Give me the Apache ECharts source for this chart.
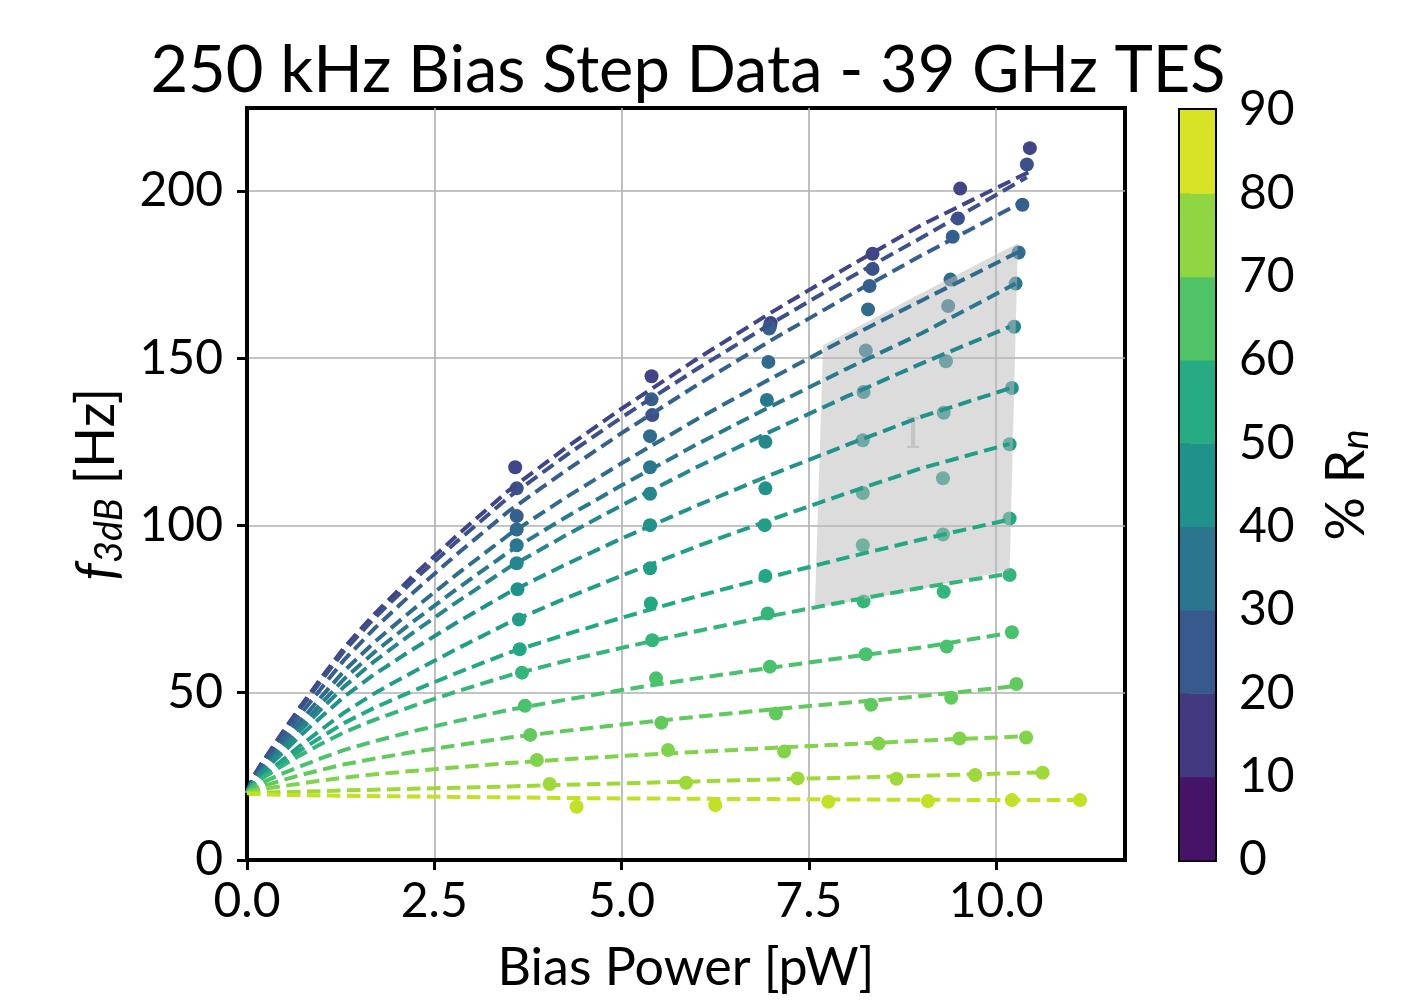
<!DOCTYPE html>
<html>
<head>
<meta charset="utf-8">
<script src="https://cdn.jsdelivr.net/npm/echarts@6/dist/echarts.min.js"></script>
<style>
  html, body { margin: 0; padding: 0; background: #fff; }
  #chart { width: 1419px; height: 1001px; }
</style>
</head>
<body>
<div id="chart"></div>
<script>
// ---------------- data ----------------
const TITLE = '250 kHz Bias Step Data - 39 GHz TES';
const X_TICKS = [0, 2.5, 5, 7.5, 10];
const Y_TICKS = [0, 50, 100, 150, 200];
const CB_TICKS = [0, 10, 20, 30, 40, 50, 60, 70, 80, 90];
const CB_BINS = [[0, 10], [10, 20], [20, 30], [30, 40], [40, 50], [50, 60], [60, 70], [70, 80], [80, 90]];

// %Rn of each curve (colour)
const RN = [18, 22, 27, 31, 36, 41, 45, 50, 54, 59, 64, 68, 73, 77, 82];

// measured points: bias power [pW]
const POINT_P = [
  [3.58, 5.40, 6.99, 8.35, 9.52, 10.45],
  [3.60, 5.41, 6.98, 8.35, 9.49, 10.41],
  [3.60, 5.40, 6.97, 8.31, 9.42, 10.35],
  [3.60, 5.38, 6.96, 8.29, 9.39, 10.30],
  [3.60, 5.38, 6.94, 8.26, 9.36, 10.26],
  [3.60, 5.38, 6.92, 8.23, 9.33, 10.24],
  [3.61, 5.38, 6.92, 8.22, 9.30, 10.21],
  [3.63, 5.38, 6.91, 8.22, 9.29, 10.18],
  [3.64, 5.39, 6.92, 8.22, 9.29, 10.18],
  [3.67, 5.41, 6.95, 8.23, 9.30, 10.18],
  [3.71, 5.46, 6.98, 8.26, 9.34, 10.21],
  [3.78, 5.53, 7.06, 8.33, 9.40, 10.27],
  [3.87, 5.62, 7.17, 8.43, 9.51, 10.40],
  [4.04, 5.86, 7.35, 8.67, 9.72, 10.62],
  [4.40, 6.25, 7.76, 9.09, 10.21, 11.12]
];
// measured points: f3dB [Hz]
const POINT_F = [
  [117.4, 144.6, 160.5, 181.2, 200.7, 212.8],
  [111.1, 133.0, 159.5, 176.7, 191.8, 207.9],
  [102.8, 137.7, 158.9, 171.6, 186.3, 195.9],
  [98.8, 126.7, 148.9, 164.6, 173.5, 181.6],
  [94.1, 117.4, 137.5, 152.3, 165.6, 172.3],
  [88.7, 109.5, 125.0, 139.9, 149.1, 159.4],
  [80.9, 100.1, 111.1, 125.5, 133.7, 141.1],
  [71.9, 87.2, 100.1, 109.7, 114.1, 124.3],
  [63.0, 76.7, 84.9, 94.1, 97.3, 102.1],
  [56.0, 65.7, 73.7, 77.3, 80.2, 85.2],
  [46.1, 54.3, 57.8, 61.5, 63.8, 68.1],
  [37.4, 41.0, 43.8, 46.4, 48.5, 52.6],
  [29.9, 32.9, 32.4, 34.8, 36.3, 36.6],
  [22.7, 23.1, 24.4, 24.3, 25.4, 26.1],
  [15.9, 16.4, 17.4, 17.6, 17.9, 17.9]
];

// fit curves, read at these powers plus each curve's own end power
const FIT_P = [0, 0.02, 0.05, 0.1, 0.2, 0.3, 0.45, 0.7, 1.0, 1.3, 1.7, 2.2, 2.8, 3.5, 4.25, 5, 6, 7, 8, 9];
const FIT_END = [10.45, 10.41, 10.35, 10.30, 10.26, 10.18, 10.21, 10.18, 10.18, 10.18, 10.21, 10.27, 10.40, 10.62, 11.12];
const FIT_F = [
  [20, 21.5, 23.1, 25.5, 29.1, 32.4, 37.4, 45.5, 54.7, 63.6, 73.5, 84.6, 97.0, 110.6, 123.1, 134.9, 149.7, 163.7, 177.0, 189.8, 205.8],
  [20, 21.4, 23.0, 25.3, 28.8, 32.1, 37.0, 44.9, 53.9, 62.6, 72.3, 83.1, 95.2, 108.6, 120.8, 132.3, 146.7, 160.4, 173.5, 186.0, 204.1],
  [20, 21.2, 22.7, 24.8, 28.0, 31.1, 35.6, 43.1, 51.6, 59.9, 69.2, 79.6, 91.4, 104.4, 116.3, 127.6, 141.9, 155.4, 168.3, 180.7, 196.7],
  [20, 21.1, 22.4, 24.4, 27.4, 30.1, 34.3, 41.2, 49.0, 56.6, 65.1, 74.6, 85.4, 97.3, 108.3, 118.6, 131.7, 144.0, 155.9, 167.2, 181.8],
  [20, 21.1, 22.3, 24.1, 26.9, 29.5, 33.4, 39.7, 47.0, 54.2, 62.1, 71.0, 81.0, 92.2, 102.4, 112.0, 124.2, 135.7, 146.8, 157.4, 172.3],
  [20, 21.0, 22.1, 23.8, 26.4, 28.8, 32.5, 38.5, 45.3, 51.9, 59.4, 67.7, 77.1, 87.5, 97.0, 106.0, 117.4, 128.2, 138.5, 148.4, 159.4],
  [20, 21.0, 22.0, 23.6, 26.0, 28.2, 31.5, 36.9, 43.0, 48.9, 55.5, 62.8, 71.0, 80.0, 88.3, 96.1, 105.9, 115.2, 124.0, 132.5, 141.2],
  [20, 20.8, 21.6, 22.9, 24.9, 26.7, 29.4, 34.0, 39.1, 44.1, 49.8, 56.0, 63.1, 71.0, 78.2, 85.0, 93.7, 101.8, 109.6, 117.1, 124.4],
  [20, 20.8, 21.7, 22.9, 24.7, 26.3, 28.7, 32.6, 36.9, 41.0, 45.5, 50.4, 55.9, 62.0, 67.4, 72.4, 78.8, 84.7, 90.4, 95.8, 101.8],
  [20, 20.8, 21.6, 22.8, 24.4, 25.8, 27.9, 31.2, 34.8, 38.2, 41.9, 45.9, 50.4, 55.2, 59.5, 63.4, 68.4, 73.0, 77.3, 81.4, 85.6],
  [20, 20.6, 21.2, 22.0, 23.1, 24.1, 25.6, 27.9, 30.5, 32.9, 35.5, 38.4, 41.5, 44.9, 47.9, 50.8, 54.3, 57.5, 60.6, 63.5, 68.0],
  [20, 20.4, 20.8, 21.3, 22.1, 22.7, 23.7, 25.3, 27.0, 28.6, 30.3, 32.2, 34.3, 36.6, 38.6, 40.5, 42.8, 45.0, 47.0, 49.0, 52.0],
  [20, 20.2, 20.4, 20.7, 21.1, 21.5, 22.0, 22.8, 23.8, 24.6, 25.6, 26.6, 27.7, 29.0, 30.1, 31.1, 32.3, 33.5, 34.6, 35.7, 37.0],
  [20, 20.0, 20.0, 20.1, 20.1, 20.2, 20.3, 20.4, 20.6, 20.8, 21.0, 21.3, 21.6, 22.0, 22.5, 22.9, 23.5, 24.1, 24.6, 25.2, 26.2],
  [20, 19.8, 19.75, 19.7, 19.6, 19.55, 19.5, 19.4, 19.3, 19.2, 19.1, 19.0, 18.85, 18.7, 18.55, 18.4, 18.3, 18.2, 18.1, 18.0, 17.9]
];

// shaded region (bias power, f3dB) and its marker
const REGION_P = [7.69, 8.98, 10.29, 10.18, 8.90, 7.58];
const REGION_F = [153.9, 169.2, 184.4, 86.7, 80.6, 75.3];
const REGION_MARK = [8.89, 126.4];

// ---------------- styling helpers ----------------
const VIRIDIS = ['#440154', '#482475', '#414487', '#355f8d', '#2a788e', '#21918c',
                 '#22a884', '#44bf70', '#7ad151', '#bddf26', '#fde725'];
function hexToRgb(h) { return [1, 3, 5].map(i => parseInt(h.slice(i, i + 2), 16)); }
function viridis(t) {
  t = Math.max(0, Math.min(1, t));
  const s = t * 10, i = Math.min(9, Math.floor(s)), f = s - i;
  const a = hexToRgb(VIRIDIS[i]), b = hexToRgb(VIRIDIS[i + 1]);
  const c = a.map((v, k) => Math.round(v + (b[k] - v) * f));
  return 'rgb(' + c.join(',') + ')';
}
const CB_MIN = 0, CB_MAX = 90;
const rnColor = v => viridis((v - CB_MIN) / (CB_MAX - CB_MIN));

const FONT = 'Lato';
const LABEL_SIZE = 48;

// ---------------- series ----------------
const series = [];
RN.forEach((rn, i) => {
  series.push({
    type: 'scatter', xAxisIndex: 0, yAxisIndex: 0, z: 2,
    symbol: 'circle', symbolSize: 14,
    itemStyle: { color: rnColor(rn), opacity: 1 },
    data: POINT_P[i].map((p, k) => [p, POINT_F[i][k]]),
    silent: true
  });
});
series.push({
  type: 'custom', xAxisIndex: 0, yAxisIndex: 0, z: 3, silent: true,
  data: REGION_P.map((p, k) => [p, REGION_F[k]]),
  renderItem: function (params, api) {
    if (params.dataIndex !== 0) return null;
    const pts = REGION_P.map((p, k) => api.coord([p, REGION_F[k]]));
    const m = api.coord(REGION_MARK);
    return {
      type: 'group',
      children: [
        { type: 'polygon', shape: { points: pts }, style: { fill: 'rgba(188,188,188,0.52)' } },
        { type: 'text', style: { text: 'I', x: m[0], y: m[1], fill: '#c4c4c4',
          font: '42px "DejaVu Serif"', align: 'center', verticalAlign: 'middle' } }
      ]
    };
  }
});
RN.forEach((rn, i) => {
  const xs = FIT_P.concat([FIT_END[i]]);
  series.push({
    type: 'line', xAxisIndex: 0, yAxisIndex: 0, z: 4,
    showSymbol: false, smooth: false,
    lineStyle: { color: rnColor(rn), width: 4, type: [13.5, 6.5], cap: 'butt', join: 'round' },
    data: xs.map((p, k) => [p, FIT_F[i][k]]),
    silent: true
  });
});
// colorbar
series.push({
  type: 'custom', xAxisIndex: 1, yAxisIndex: 1, silent: true,
  data: CB_BINS,
  renderItem: function (params, api) {
    const lo = api.value(0), hi = api.value(1);
    const p0 = api.coord([0, hi]), p1 = api.coord([1, lo]);
    return { type: 'rect', shape: { x: p0[0], y: p0[1], width: p1[0] - p0[0], height: p1[1] - p0[1] + 0.5 },
             style: { fill: rnColor((lo + hi) / 2) } };
  },
  encode: { x: -1, y: [0, 1] }
});

const axisText = { color: '#000', fontFamily: FONT, fontSize: LABEL_SIZE };

const option = {
  animation: false,
  backgroundColor: '#fff',
  title: {
    text: TITLE, left: 683, top: 34, textAlign: 'center',
    textStyle: { fontFamily: FONT, fontSize: 65, fontWeight: 'normal', color: '#000' }
  },
  grid: [
    { left: 247, top: 108, width: 878, height: 752, show: true, borderColor: '#000', borderWidth: 4, backgroundColor: 'transparent' },
    { left: 1180, top: 110, width: 35, height: 750, show: true, borderColor: '#000', borderWidth: 4, backgroundColor: 'transparent' }
  ],
  xAxis: [
    {
      gridIndex: 0, type: 'value', min: 0, max: 11.72,
      name: 'Bias Power [pW]', nameLocation: 'middle', nameGap: 82,
      nameTextStyle: { color: '#000', fontFamily: FONT, fontSize: 52 },
      axisLine: { show: true, lineStyle: { color: '#000', width: 4 } },
      axisTick: { show: true, inside: false, length: 10, lineStyle: { color: '#000', width: 3 }, customValues: X_TICKS },
      axisLabel: Object.assign({ margin: 18, customValues: X_TICKS, formatter: v => v.toFixed(1) }, axisText),
      splitLine: { show: true, lineStyle: { color: '#b0b0b0', width: 1.6 } }
    },
    { gridIndex: 1, type: 'value', min: 0, max: 1, show: false }
  ],
  yAxis: [
    {
      gridIndex: 0, type: 'value', min: 0, max: 224.8,
      name: '{i|f}{sub|3dB} {n|[Hz]}', nameLocation: 'middle', nameGap: 116, nameRotate: 90,
      nameTextStyle: {
        color: '#000', fontFamily: FONT, fontSize: 54,
        rich: {
          i: { fontFamily: FONT, fontStyle: 'italic', fontSize: 54, color: '#000', lineHeight: 64, verticalAlign: 'middle' },
          sub: { fontFamily: FONT, fontStyle: 'italic', fontSize: 38, color: '#000', lineHeight: 64, verticalAlign: 'bottom', padding: [20, 0, 0, 0] },
          n: { fontFamily: FONT, fontSize: 54, color: '#000', lineHeight: 64, verticalAlign: 'middle' }
        }
      },
      axisLine: { show: true, lineStyle: { color: '#000', width: 4 } },
      axisTick: { show: true, inside: false, length: 10, lineStyle: { color: '#000', width: 3 }, customValues: Y_TICKS },
      axisLabel: Object.assign({ margin: 24, customValues: Y_TICKS }, axisText),
      splitLine: { show: true, lineStyle: { color: '#b0b0b0', width: 1.6 } }
    },
    {
      gridIndex: 1, type: 'value', min: 0, max: 90, position: 'right',
      name: '% R{sub|n}', nameLocation: 'middle', nameGap: 104, nameRotate: 90,
      nameTextStyle: {
        color: '#000', fontFamily: FONT, fontSize: 54,
        rich: {
          sub: { fontFamily: FONT, fontStyle: 'italic', fontSize: 38, color: '#000', verticalAlign: 'bottom', padding: [18, 0, 0, 0] }
        }
      },
      axisLine: { show: true, lineStyle: { color: '#000', width: 4 } },
      axisTick: { show: true, inside: false, length: 10, lineStyle: { color: '#000', width: 3 }, customValues: CB_TICKS },
      axisLabel: Object.assign({ margin: 24, customValues: CB_TICKS }, axisText),
      splitLine: { show: false }
    }
  ],
  series: series
};

const chart = echarts.init(document.getElementById('chart'), null, { renderer: 'canvas' });
chart.setOption(option);
</script>
</body>
</html>
